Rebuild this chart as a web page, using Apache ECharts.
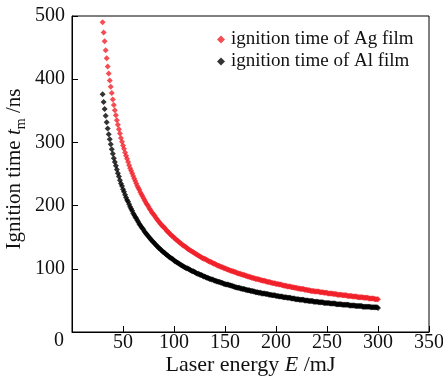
<!DOCTYPE html>
<html><head><meta charset="utf-8">
<script src="https://cdn.jsdelivr.net/npm/echarts@6/dist/echarts.min.js"></script>
<style>html,body{margin:0;padding:0;background:#fff}#c{width:443px;height:380px}</style>
</head><body><div id="c"></div>
<script>
// Laser energy E (mJ)
const energy = [
30,31,32,33,34,35,36,37,38,39,
40,41,42,43,44,45,46,47,48,49,
50,51,52,53,54,55,56,57,58,59,
60,61,62,63,64,65,66,67,68,69,
70,71,72,73,74,75,76,77,78,79,
80,81,82,83,84,85,86,87,88,89,
90,91,92,93,94,95,96,97,98,99,
100,101,102,103,104,105,106,107,108,109,
110,111,112,113,114,115,116,117,118,119,
120,121,122,123,124,125,126,127,128,129,
130,131,132,133,134,135,136,137,138,139,
140,141,142,143,144,145,146,147,148,149,
150,151,152,153,154,155,156,157,158,159,
160,161,162,163,164,165,166,167,168,169,
170,171,172,173,174,175,176,177,178,179,
180,181,182,183,184,185,186,187,188,189,
190,191,192,193,194,195,196,197,198,199,
200,201,202,203,204,205,206,207,208,209,
210,211,212,213,214,215,216,217,218,219,
220,221,222,223,224,225,226,227,228,229,
230,231,232,233,234,235,236,237,238,239,
240,241,242,243,244,245,246,247,248,249,
250,251,252,253,254,255,256,257,258,259,
260,261,262,263,264,265,266,267,268,269,
270,271,272,273,274,275,276,277,278,279,
280,281,282,283,284,285,286,287,288,289,
290,291,292,293,294,295,296,297,298,299,
300];
// ignition time of Ag film (ns)
const agTime = [
490,474,460,446,433,420,409,398,388,378,
368,359,351,343,335,328,321,314,307,301,
295,290,284,279,274,269,264,259,255,251,
247,243,239,235,231,228,225,221,218,215,
212,209,206,203,201,198,195,193,190,188,
186,184,181,179,177,175,173,171,169,167,
166,164,162,160,159,157,155,154,152,151,
149,148,146,145,144,142,141,140,138,137,
136,135,134,132,131,130,129,128,127,126,
125,124,123,122,121,120,119,118,117,116,
116,115,114,113,112,111,111,110,109,108,
108,107,106,105,105,104,103,103,102,101,
101,100,99,99,98,97,97,96,96,95,
95,94,93,93,92,92,91,91,90,90,
89,89,88,88,87,87,86,86,85,85,
84,84,84,83,83,82,82,81,81,81,
80,80,79,79,79,78,78,77,77,77,
76,76,76,75,75,75,74,74,73,73,
73,72,72,72,72,71,71,71,70,70,
70,69,69,69,68,68,68,68,67,67,
67,66,66,66,65,65,65,65,64,64,
64,64,64,63,63,63,63,62,62,62,
62,61,61,61,61,61,60,60,60,60,
59,59,59,59,59,58,58,58,58,58,
57,57,57,57,57,56,56,56,56,56,
55,55,55,55,55,55,54,54,54,54,
54,53,53,53,53,53,53,52,52,52,
52];
// ignition time of Al film (ns)
const alTime = [
376,364,353,342,332,322,313,305,297,289,
282,275,269,263,257,251,246,240,235,231,
226,222,217,213,209,206,202,198,195,192,
188,185,182,180,177,174,171,169,166,164,
162,159,157,155,153,151,149,147,145,143,
142,140,138,137,135,133,132,130,129,127,
126,125,123,122,121,119,118,117,116,115,
113,112,111,110,109,108,107,106,105,104,
103,102,101,101,100,99,98,97,96,96,
95,94,93,92,92,91,90,90,89,88,
88,87,86,86,85,84,84,83,83,82,
81,81,80,80,79,79,78,78,77,76,
76,75,75,75,74,74,73,73,72,72,
71,71,70,70,70,69,69,68,68,68,
67,67,66,66,66,65,65,65,64,64,
63,63,63,62,62,62,61,61,61,61,
60,60,60,59,59,59,58,58,58,58,
57,57,57,56,56,56,56,55,55,55,
55,54,54,54,54,53,53,53,53,52,
52,52,52,51,51,51,51,51,50,50,
50,50,49,49,49,49,49,48,48,48,
48,48,47,47,47,47,47,46,46,46,
46,46,46,45,45,45,45,45,45,44,
44,44,44,44,44,43,43,43,43,43,
43,43,42,42,42,42,42,42,41,41,
41,41,41,41,41,40,40,40,40,40,
40,40,40,39,39,39,39,39,39,39,
38];
const seriesNames = ['ignition time of Ag film', 'ignition time of Al film'];
const xTickLabels = ['50','100','150','200','250','300','350'];
const yTickLabels = ['0','100','200','300','400','500'];

const FONT = 'Liberation Serif';
const chart = echarts.init(document.getElementById('c'), null, {renderer: 'canvas'});
chart.setOption({
  backgroundColor: '#fff',
  animation: false,
  textStyle: {fontFamily: FONT, color: '#000'},
  grid: {left: 72, right: 14, top: 16, bottom: 48, outerBoundsMode: 'none', containLabel: false,
    show: true, borderColor: '#000', borderWidth: 1, backgroundColor: 'transparent'},
  legend: {
    orient: 'vertical', left: 212, top: 25, itemGap: 3,
    itemWidth: 8, itemHeight: 8, icon: 'diamond',
    textStyle: {fontFamily: FONT, fontSize: 19, color: '#111', padding: [0,0,0,1]},
    data: seriesNames
  },
  xAxis: {
    type: 'value', min: 0, max: 350, interval: 50,
    name: 'Laser energy {i|E} /mJ', nameLocation: 'middle', nameGap: 22, nameMoveOverlap: false,
    nameTextStyle: {fontFamily: FONT, fontSize: 22, color: '#111',
      rich: {i: {fontFamily: FONT, fontSize: 22, fontStyle: 'italic', color: '#111'}}},
    axisLine: {show: true, lineStyle: {color: '#000', width: 1}},
    axisTick: {show: true, inside: true, length: 6, lineStyle: {color: '#000'}},
    axisLabel: {fontFamily: FONT, fontSize: 20, color: '#111', margin: 1,
      formatter: v => xTickLabels.includes(String(v)) ? String(v) : ''},
    splitLine: {show: false}
  },
  yAxis: {
    type: 'value', min: 0, max: 500, interval: 100,
    name: 'Ignition time {i|t}{s|m} /ns', nameLocation: 'middle', nameGap: 47, nameMoveOverlap: false,
    nameTextStyle: {fontFamily: FONT, fontSize: 21, color: '#111', padding: [0,0,0,10],
      rich: {i: {fontFamily: FONT, fontSize: 21, fontStyle: 'italic', color: '#111'},
             s: {fontFamily: FONT, fontSize: 14, color: '#111', verticalAlign: 'bottom', padding: [0,0,-3,0]}}},
    axisLine: {show: true, lineStyle: {color: '#000', width: 1}},
    axisTick: {show: true, inside: true, length: 6, lineStyle: {color: '#000'}},
    axisLabel: {fontFamily: FONT, fontSize: 20, color: '#111', margin: 7,
      formatter: v => v === 0 ? '{z|0}' : (yTickLabels.includes(String(v)) ? String(v) : ''),
      rich: {z: {fontFamily: FONT, fontSize: 20, color: '#111', padding: [17,1,0,0]}}},
    splitLine: {show: false}
  },
  series: [
    {name: seriesNames[0], type: 'scatter', symbol: 'diamond', symbolSize: 6,
     itemStyle: {color: '#f0222a'}, data: energy.map((e, i) => [e, agTime[i]])},
    {name: seriesNames[1], type: 'scatter', symbol: 'diamond', symbolSize: 6,
     itemStyle: {color: '#000'}, data: energy.map((e, i) => [e, alTime[i]])}
  ]
});
</script>
</body></html>
